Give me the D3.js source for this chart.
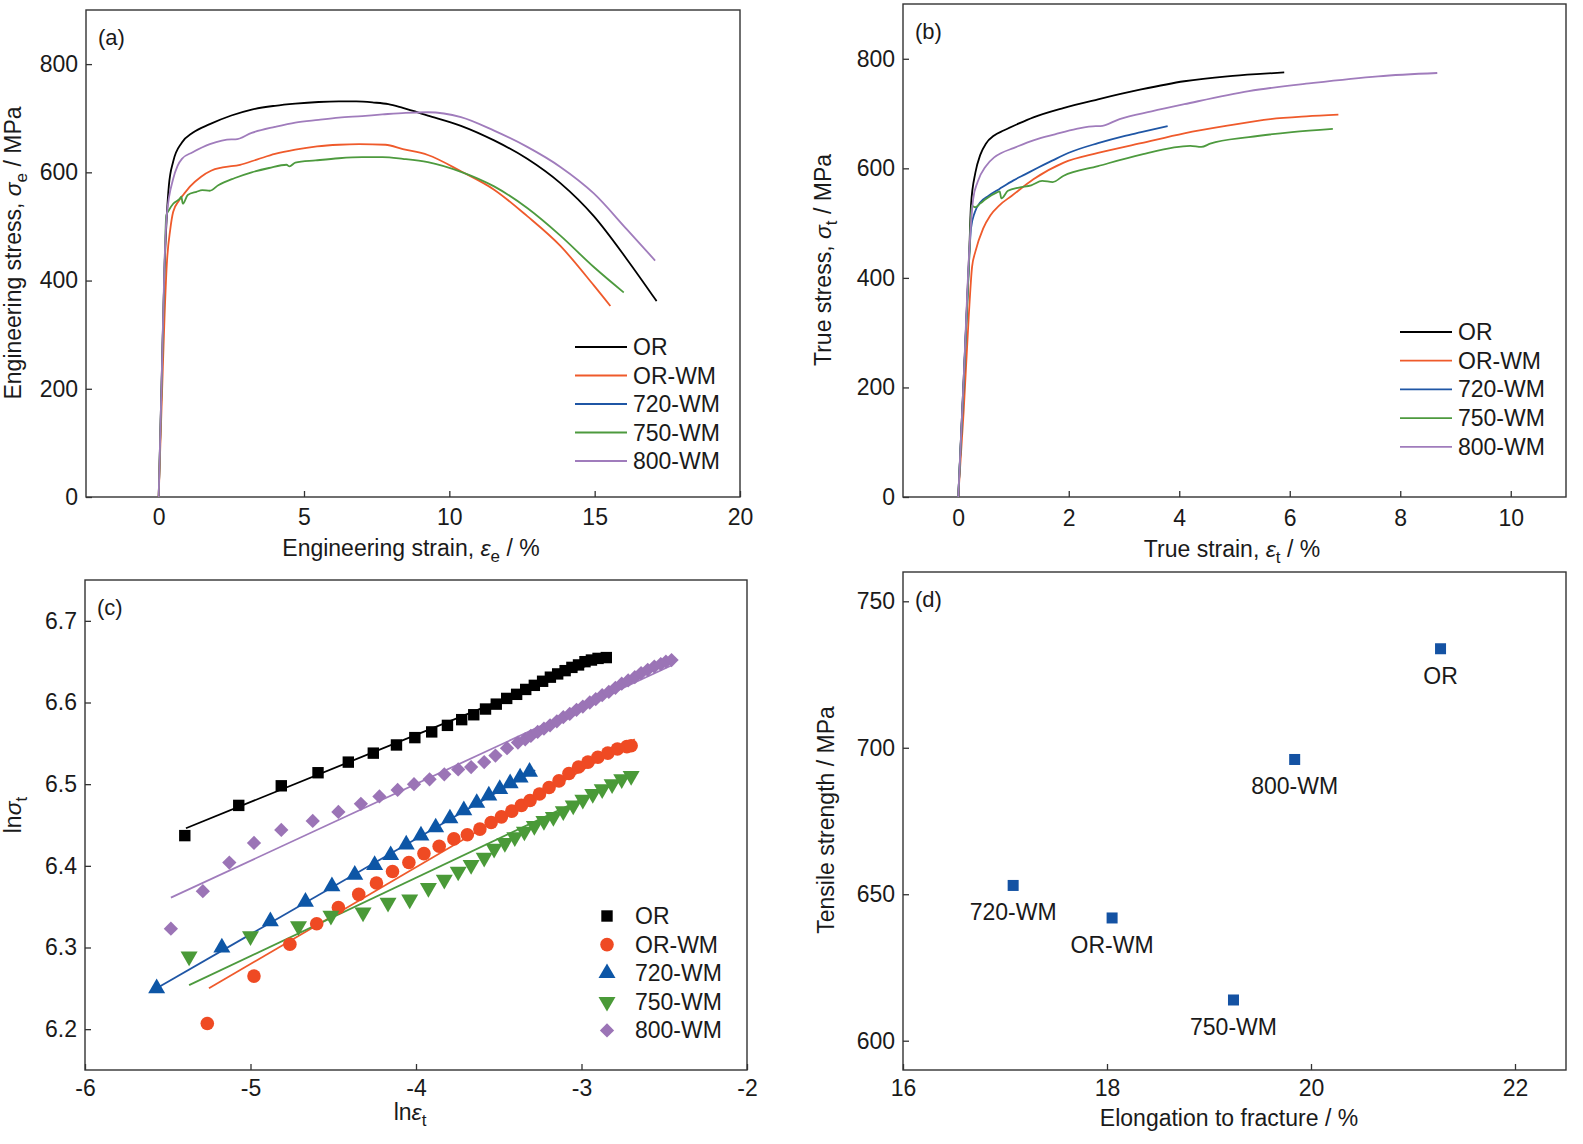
<!DOCTYPE html>
<html>
<head>
<meta charset="utf-8">
<script src="https://cdn.jsdelivr.net/npm/d3@7"></script>
<style>
body { margin: 0; background: #fff; }
text { font-family: "Liberation Sans", Arial, sans-serif; fill: #1a1a1a; }
</style>
</head>
<body>
<script>
// sample names and colours
var series = ["OR", "OR-WM", "720-WM", "750-WM", "800-WM"];
var lineColors = ["#000000", "#ef5a2b", "#1f56a5", "#4d9a3e", "#a07cbc"];
var markColors = ["#000000", "#ef4a23", "#0d56a6", "#4a9a38", "#9b74b6"];

// (a) engineering strain (%) vs engineering stress (MPa)
var engOR = [[0,0],[0.1,210],[0.2,420],[0.28,520],[0.35,575],[0.5,620],[0.8,655],[1.17,673],[1.76,689],[2.5,705],[3.2,716],[4.0,723],[4.7,727],[5.5,730],[6.2,731],[6.8,731],[7.4,729],[7.9,726],[8.4,719],[9.26,705],[10.4,686],[11.54,659],[12.68,625],[13.82,580],[14.97,519],[16.1,440],[17.13,362]];
var engORWM = [[0,0],[0.12,200],[0.2,330],[0.28,430],[0.4,495],[0.5,527],[0.7,548],[0.87,560],[1.1,575],[1.46,592],[1.8,603],[2.2,609],[2.8,614],[3.4,624],[4,634],[4.7,642],[5.45,648],[6.2,651],[6.9,652],[7.8,651],[8.4,643],[9.26,632],[10.4,602],[11.54,568],[12.68,519],[13.82,464],[14.97,391],[15.54,353]];
var eng720 = [];
var eng750 = [[0,0],[0.1,200],[0.2,420],[0.26,520],[0.35,530],[0.5,542],[0.72,551],[0.78,555],[0.83,542],[1.0,558],[1.3,564],[1.5,567],[1.76,566],[2.05,576],[2.6,589],[3.2,600],[3.8,608],[4.4,614],[4.5,611],[4.7,618],[5.4,622],[6.2,626],[7.0,628],[7.7,628],[8.4,625],[9.26,619],[10.4,601],[11.54,574],[12.68,534],[13.82,483],[14.97,425],[16.0,378]];
var eng800 = [[0,0],[0.1,210],[0.2,430],[0.28,521],[0.5,588],[0.65,612],[0.8,625],[1.17,637],[1.76,652],[2.5,661],[2.64,661],[3.2,673],[4,684],[4.7,692],[5.5,697],[6.2,701],[7,704],[7.7,707],[8.5,710],[9.26,711],[10.4,702],[11.54,677],[12.68,647],[13.82,610],[14.97,561],[16.1,495],[17.08,437]];

// (b) true strain (%) vs true stress (MPa)
var trueOR = [[0,0],[0.1,220],[0.2,450],[0.23,532],[0.31,592],[0.4,625],[0.5,645],[0.65,660],[0.82,669],[1.1,682],[1.36,693],[1.9,710],[2.53,726],[3.31,744],[4.09,759],[4.87,768],[5.4,772],[5.9,775]];
var trueORWM = [[0,0],[0.1,160],[0.19,330],[0.25,420],[0.31,448],[0.45,490],[0.58,514],[0.75,533],[0.97,550],[1.36,580],[1.9,610],[2.53,628],[3.31,646],[4.09,664],[4.87,678],[5.65,690],[6.3,695],[6.88,698]];
var true720 = [[0,0],[0.1,210],[0.2,440],[0.23,490],[0.3,520],[0.4,538],[0.55,550],[0.74,562],[1.0,578],[1.21,589],[1.44,601],[1.7,614],[1.99,628],[2.53,646],[3.0,659],[3.31,666],[3.79,677]];
var true750 = [[0,0],[0.1,210],[0.2,440],[0.24,532],[0.31,529],[0.4,536],[0.5,544],[0.7,556],[0.75,558],[0.78,545],[0.9,559],[1.1,565],[1.32,569],[1.52,577],[1.71,575],[1.9,586],[2.53,604],[3.31,625],[4.2,641],[4.4,639],[4.56,645],[5.26,657],[6.04,666],[6.78,672]];
var true800 = [[0,0],[0.1,220],[0.2,450],[0.27,544],[0.35,575],[0.5,604],[0.65,620],[0.78,628],[1.0,637],[1.36,651],[1.75,662],[2.14,672],[2.49,677],[2.57,677],[2.92,690],[3.5,704],[4.09,717],[5.26,741],[6.43,756],[7.6,768],[8.67,774]];

// (c) ln(true strain) vs ln(true stress), points and fitted lines
var lnOR = [[-5.397,6.437],[-5.071,6.474],[-4.814,6.498],[-4.592,6.514],[-4.409,6.527],[-4.258,6.538],[-4.118,6.548],[-4.007,6.557],[-3.905,6.564],[-3.810,6.572],[-3.724,6.579],[-3.651,6.585],[-3.580,6.592],[-3.515,6.598],[-3.452,6.605],[-3.392,6.610],[-3.337,6.616],[-3.285,6.621],[-3.235,6.626],[-3.188,6.631],[-3.144,6.635],[-3.099,6.639],[-3.058,6.643],[-3.018,6.646],[-2.979,6.650],[-2.940,6.652],[-2.900,6.654],[-2.850,6.655]];
var lnORWM = [[-5.261,6.207],[-4.979,6.265],[-4.762,6.304],[-4.600,6.329],[-4.469,6.349],[-4.346,6.365],[-4.239,6.379],[-4.142,6.393],[-4.043,6.404],[-3.952,6.415],[-3.860,6.424],[-3.771,6.433],[-3.690,6.438],[-3.614,6.445],[-3.546,6.453],[-3.484,6.460],[-3.421,6.467],[-3.363,6.474],[-3.311,6.480],[-3.254,6.488],[-3.196,6.496],[-3.136,6.504],[-3.076,6.513],[-3.018,6.521],[-2.961,6.527],[-2.901,6.533],[-2.841,6.538],[-2.783,6.543],[-2.726,6.546],[-2.700,6.547]];
var ln720 = [[-5.567,6.250],[-5.173,6.300],[-4.880,6.332],[-4.668,6.356],[-4.508,6.375],[-4.370,6.389],[-4.250,6.401],[-4.153,6.413],[-4.059,6.426],[-3.970,6.437],[-3.881,6.447],[-3.795,6.458],[-3.711,6.468],[-3.633,6.477],[-3.560,6.486],[-3.494,6.494],[-3.431,6.501],[-3.371,6.508],[-3.314,6.515]];
var ln750 = [[-5.371,6.289],[-5.0,6.314],[-4.710,6.326],[-4.514,6.339],[-4.320,6.343],[-4.169,6.355],[-4.038,6.359],[-3.925,6.373],[-3.829,6.383],[-3.745,6.393],[-3.667,6.401],[-3.588,6.410],[-3.528,6.421],[-3.463,6.428],[-3.403,6.435],[-3.345,6.442],[-3.285,6.449],[-3.227,6.455],[-3.170,6.460],[-3.110,6.467],[-3.050,6.474],[-2.992,6.481],[-2.932,6.488],[-2.875,6.494],[-2.815,6.500],[-2.757,6.506],[-2.700,6.510]];
var ln800 = [[-5.481,6.323],[-5.288,6.369],[-5.128,6.404],[-4.979,6.428],[-4.814,6.444],[-4.624,6.455],[-4.469,6.466],[-4.333,6.476],[-4.221,6.485],[-4.111,6.493],[-4.012,6.500],[-3.918,6.506],[-3.829,6.512],[-3.745,6.518],[-3.667,6.521],[-3.588,6.527],[-3.520,6.535],[-3.450,6.544],[-3.384,6.551],[-3.340,6.555],[-3.306,6.559],[-3.265,6.564],[-3.227,6.568],[-3.190,6.572],[-3.149,6.577],[-3.110,6.582],[-3.071,6.586],[-3.030,6.591],[-2.992,6.595],[-2.950,6.600],[-2.914,6.604],[-2.875,6.609],[-2.835,6.613],[-2.795,6.618],[-2.757,6.623],[-2.718,6.627],[-2.678,6.631],[-2.640,6.636],[-2.600,6.640],[-2.560,6.644],[-2.521,6.647],[-2.490,6.650],[-2.456,6.652]];
var fitOR = [[-5.39,6.446],[-2.85,6.655]];
var fitORWM = [[-5.251,6.250],[-2.678,6.555]];
var fit720 = [[-5.567,6.250],[-3.28,6.517]];
var fit750 = [[-5.371,6.254],[-2.678,6.512]];
var fit800 = [[-5.481,6.361],[-2.46,6.645]];

// (d) elongation to fracture (%) vs tensile strength (MPa), same order as series
var elongation = [21.27, 18.05, 17.08, 19.24, 19.84];
var tensile = [733.8, 641.9, 653.0, 613.9, 696.0];

// axis ticks
var ticksAX = [0, 5, 10, 15, 20], ticksAY = [0, 200, 400, 600, 800];
var ticksBX = [0, 2, 4, 6, 8, 10], ticksBY = [0, 200, 400, 600, 800];
var ticksCX = [-6, -5, -4, -3, -2], ticksCY = [6.2, 6.3, 6.4, 6.5, 6.6, 6.7];
var ticksDX = [16, 18, 20, 22], ticksDY = [600, 650, 700, 750];

var FS = 23; // text size used everywhere

function init() {
    var svg = d3.select("body").append("svg")
        .attr("width", 1583)
        .attr("height", 1144);

    // draws box + inward ticks, returns the scales
    function panel(p) {
        var x = d3.scaleLinear().domain(p.xd).range([p.l, p.r]);
        var y = d3.scaleLinear().domain(p.yd).range([p.b, p.t]);
        var g = svg.append("g");

        var xAxis = g.append("g")
            .attr("transform", "translate(0," + p.b + ")")
            .call(d3.axisBottom(x).tickValues(p.xt).tickSizeInner(-6).tickSizeOuter(0)
                .tickPadding(p.xpad).tickFormat(p.xf || function(d) { return String(d); }));
        var yAxis = g.append("g")
            .attr("transform", "translate(" + p.l + ",0)")
            .call(d3.axisLeft(y).tickValues(p.yt).tickSizeInner(-6).tickSizeOuter(0)
                .tickPadding(8).tickFormat(p.yf || function(d) { return String(d); }));
        [xAxis, yAxis].forEach(function(a) {
            a.select(".domain").remove();
            a.selectAll("line").attr("stroke", "#333").attr("stroke-width", 1.3);
            a.selectAll("text").attr("font-size", FS).attr("fill", "#1a1a1a")
                .style("font-family", "'Liberation Sans', Arial, sans-serif");
        });

        g.append("rect")
            .attr("x", p.l).attr("y", p.t)
            .attr("width", p.r - p.l).attr("height", p.b - p.t)
            .attr("fill", "none").attr("stroke", "#333").attr("stroke-width", 1.4);

        g.append("text")
            .attr("x", p.l + 12).attr("y", p.t + 35)
            .attr("font-size", 22)
            .text(p.tag);
        return { x: x, y: y };
    }

    // text made of parts: [string, "i" italic | "s" subscript | "u" back up]
    function richText(sel, parts) {
        parts.forEach(function(pt) {
            var t = sel.append("tspan").text(pt[0]);
            if (pt[1] == "i") t.attr("font-style", "italic");
            if (pt[1] == "s") t.attr("font-size", 17).attr("dy", 6);
            if (pt[1] == "u") t.attr("dy", -6);
        });
    }

    function xTitle(x, y, parts) {
        var t = svg.append("text").attr("x", x).attr("y", y)
            .attr("text-anchor", "middle").attr("font-size", FS);
        richText(t, parts);
    }

    function yTitle(x, y, parts) {
        var t = svg.append("text")
            .attr("transform", "translate(" + x + "," + y + ") rotate(-90)")
            .attr("text-anchor", "middle").attr("font-size", FS);
        richText(t, parts);
    }

    function curves(sc, list, curve) {
        var line = d3.line()
            .curve(curve)
            .x(function(d) { return sc.x(d[0]); })
            .y(function(d) { return sc.y(d[1]); });
        list.forEach(function(data, i) {
            if (!data.length) return;
            svg.append("path")
                .attr("d", line(data))
                .attr("fill", "none")
                .attr("stroke", lineColors[i])
                .attr("stroke-width", 1.8)
                .attr("stroke-linejoin", "round");
        });
    }

    function lineLegend(x, y, gap) {
        series.forEach(function(s, i) {
            svg.append("line")
                .attr("x1", x).attr("x2", x + 52)
                .attr("y1", y + i * gap).attr("y2", y + i * gap)
                .attr("stroke", lineColors[i]).attr("stroke-width", 1.8);
            svg.append("text")
                .attr("x", x + 58).attr("y", y + i * gap + 8)
                .attr("font-size", FS)
                .text(s);
        });
    }

    // ---------- (a) ----------
    var a = panel({ l: 86, r: 740, t: 10, b: 497, xd: [-2.5, 20], yd: [0, 900],
        xt: ticksAX, yt: ticksAY, xpad: 12, tag: "(a)" });
    curves(a, [engOR, engORWM, eng720, eng750, eng800], d3.curveMonotoneX);
    lineLegend(575, 347, 28.5);
    xTitle(411, 556, [["Engineering strain, ", ""], ["ε", "i"], ["e", "s"], [" / %", "u"]]);
    yTitle(21, 253, [["Engineering stress, ", ""], ["σ", "i"], ["e", "s"], [" / MPa", "u"]]);

    // ---------- (b) ----------
    var b = panel({ l: 903, r: 1566, t: 4, b: 497, xd: [-1, 11], yd: [0, 900],
        xt: ticksBX, yt: ticksBY, xpad: 13, tag: "(b)" });
    curves(b, [trueOR, trueORWM, true720, true750, true800], d3.curveMonotoneX);
    lineLegend(1400, 332, 28.7);
    xTitle(1232, 557, [["True strain, ", ""], ["ε", "i"], ["t", "s"], [" / %", "u"]]);
    yTitle(831, 260, [["True stress, ", ""], ["σ", "i"], ["t", "s"], [" / MPa", "u"]]);

    // ---------- (c) ----------
    var c = panel({ l: 85, r: 747, t: 580, b: 1070, xd: [-6, -2], yd: [6.15, 6.75],
        xt: ticksCX, yt: ticksCY, xpad: 10, yf: d3.format(".1f"), tag: "(c)" });
    curves(c, [fitOR, fitORWM, fit720, fit750, fit800], d3.curveLinear);

    var shapes = [
        d3.symbol().type(d3.symbolSquare).size(130),
        d3.symbol().type(d3.symbolCircle).size(145),
        d3.symbol().type(d3.symbolTriangle).size(125),
        d3.symbol().type(d3.symbolTriangle).size(125),
        d3.symbol().type(d3.symbolDiamond2).size(130)
    ];
    var rot = [0, 0, 0, 180, 0];
    [lnOR, lnORWM, ln720, ln750, ln800].forEach(function(data, i) {
        svg.append("g").selectAll("path")
            .data(data)
            .enter()
            .append("path")
            .attr("d", shapes[i]())
            .attr("transform", function(d) {
                return "translate(" + c.x(d[0]) + "," + c.y(d[1]) + ") rotate(" + rot[i] + ")";
            })
            .attr("fill", markColors[i]);
    });
    // marker legend
    series.forEach(function(s, i) {
        var yy = 916 + i * 28.6;
        svg.append("path")
            .attr("d", shapes[i]())
            .attr("transform", "translate(607," + yy + ") rotate(" + rot[i] + ")")
            .attr("fill", markColors[i]);
        svg.append("text")
            .attr("x", 635).attr("y", yy + 8)
            .attr("font-size", FS)
            .text(s);
    });
    xTitle(410, 1120, [["ln", ""], ["ε", "i"], ["t", "s"]]);
    yTitle(21, 815, [["ln", ""], ["σ", "i"], ["t", "s"]]);

    // ---------- (d) ----------
    var dP = panel({ l: 903, r: 1566, t: 572, b: 1070, xd: [16, 22.5], yd: [590, 760],
        xt: ticksDX, yt: ticksDY, xpad: 10, tag: "(d)" });
    svg.append("g").selectAll("rect")
        .data(series)
        .enter()
        .append("rect")
        .attr("x", function(d, i) { return dP.x(elongation[i]) - 5.5; })
        .attr("y", function(d, i) { return dP.y(tensile[i]) - 5.5; })
        .attr("width", 11).attr("height", 11)
        .attr("fill", "#1452a3");
    svg.append("g").selectAll("text")
        .data(series)
        .enter()
        .append("text")
        .attr("x", function(d, i) { return dP.x(elongation[i]); })
        .attr("y", function(d, i) { return dP.y(tensile[i]) + 35; })
        .attr("text-anchor", "middle")
        .attr("font-size", FS)
        .text(function(d) { return d; });
    xTitle(1229, 1126, [["Elongation to fracture / %", ""]]);
    yTitle(834, 820, [["Tensile strength / MPa", ""]]);
}
window.onload = init;
</script>
</body>
</html>
